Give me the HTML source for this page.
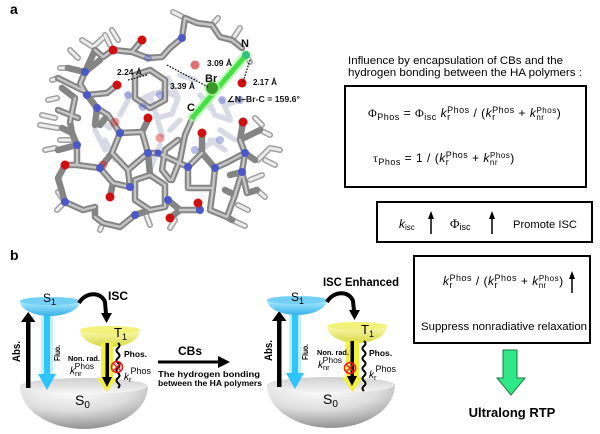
<!DOCTYPE html>
<html><head><meta charset="utf-8"><style>
html,body{margin:0;padding:0;background:#fff;}
svg{display:block;}
</style></head><body>
<svg width="600" height="434" viewBox="0 0 600 434" xmlns="http://www.w3.org/2000/svg" font-family="'Liberation Sans', Arial, sans-serif">
<defs>
<linearGradient id="cy" x1="0" y1="0" x2="0" y2="1"><stop offset="0" stop-color="#b0eeff"/><stop offset="1" stop-color="#38b0e8"/></linearGradient>
<linearGradient id="yl" x1="0" y1="0" x2="0" y2="1"><stop offset="0" stop-color="#fcfcb8"/><stop offset="1" stop-color="#d6d640"/></linearGradient>
<radialGradient id="gr" cx="0.4" cy="0.1" r="0.95"><stop offset="0" stop-color="#ffffff"/><stop offset="0.5" stop-color="#dedede"/><stop offset="1" stop-color="#8a8a8a"/></radialGradient>
<linearGradient id="grr" x1="0" y1="0" x2="0" y2="1"><stop offset="0" stop-color="#d0d0d0"/><stop offset="1" stop-color="#f6f6f6"/></linearGradient>
</defs>

<!-- panel labels -->
<text x="10" y="14" font-size="14" font-weight="bold">a</text>
<text x="10" y="260" font-size="14" font-weight="bold">b</text>

<!-- ============ MOLECULE ============ -->
<g stroke-linecap="round" stroke-linejoin="round" fill="none">
  <!-- faded background -->
  <g opacity="0.45" stroke="#a8acc8" stroke-width="5.5">
    <path d="M150 95L165 90L178 98L172 114L157 118L150 95 M157 118L162 135 M140 105L150 95 M120 115L128 100 M168 78L178 98 M208 100L215 115L230 120 M222 100L230 118 M95 130L105 150 M150 170L160 145 M200 95L210 108 M105 140L115 160 M128 95L140 100L150 95 M210 140L225 150 M220 130L235 140 M100 120L110 128 M170 130L180 120 M225 105L240 100 M180 75L195 80 M200 150L215 140"/>
  </g>
  <!-- H sticks -->
  <g stroke="#a0a0a0" stroke-width="6">
    <path d="M82 40L93 47L103 38 M60 68L68 68 M42 115L55 118 M40 125L58 128 M58 192L65 202L57 210 M173 12L185 18 M218 18L212 25 M240 28L232 40 M250 62L246 55 M260 130L270 135 M255 118L262 125 M232 220L245 226 M150 225L145 212 M100 230L103 223 M268 150L258 160 M262 175L250 180 M265 197L257 190 M45 150L55 148 M48 100L57 98 M105 35L110 45 M280 150L270 148 M52 80L58 78 M70 50L78 58 M275 165L265 160 M170 228L175 220 M238 205L248 210 M112 30L118 40 M60 140L70 140"/>
  </g>
  <g stroke="#ececec" stroke-width="3">
    <path d="M82 40L93 47L103 38 M60 68L68 68 M42 115L55 118 M40 125L58 128 M58 192L65 202L57 210 M173 12L185 18 M218 18L212 25 M240 28L232 40 M250 62L246 55 M260 130L270 135 M255 118L262 125 M232 220L245 226 M150 225L145 212 M100 230L103 223 M268 150L258 160 M262 175L250 180 M265 197L257 190 M45 150L55 148 M48 100L57 98 M105 35L110 45 M280 150L270 148 M52 80L58 78 M70 50L78 58 M275 165L265 160 M170 228L175 220 M238 205L248 210 M112 30L118 40 M60 140L70 140"/>
  </g>
  <!-- main bonds -->
  <g stroke="#858585" stroke-width="6.5">
    <path id="mb" d="M95 50L103 57L113 50 M113 50L132 52L142 40 M132 52L148 58L162 57 M162 57L170 48L182 38L185 18L197 23L212 25L220 37L232 40L242 48 M85 72L68 68 M85 72L95 50 M85 72L80 84L87 95 M58 78L82 90 M87 95L107 93L117 85 M97 108L108 115L120 133 M87 95L97 108 M75 98L70 122 M58 110L78 118 M120 133L142 132L148 120 M142 132L148 153L128 170L112 153L120 133 M112 153L100 168 M128 170L130 187L113 183L110 197 M113 183L100 168L77 165L65 165 M77 145L77 165 M77 145L72 133L70 122 M72 133L62 128 M65 202L83 210L95 207 M95 217L103 223L120 227L135 215 M135 180L150 175L165 185L165 207L150 210L135 200L135 180 M148 153L158 153L188 167 M188 167L202 153L202 133 M202 153L215 168 M188 167L188 188L213 188L215 168 M168 200L180 210L170 218 M180 210L200 210L198 203 M213 188L210 210L227 217L232 220 M215 168L228 162L245 153L240 140L243 122 M245 153L242 172L247 193L257 190 M240 140L260 130 M242 172L235 195L227 217 M193 117L185 135L180 160L172 180 M178 140L165 150L162 170L170 180 M135 75L150 70L165 80L165 100L150 108L135 98L135 75 M62 88L75 98 M95 207L95 217 M135 215L150 210 M168 200L165 207 M58 150L77 145 M95 125L97 108 M65 165L58 178L65 202 M225 190L235 195 M255 160L245 153 M230 175L242 172 M108 115L100 125 M150 175L148 153 M100 60L85 72"/>
  </g>
  <g stroke="#c6c6c6" stroke-width="2.4">
    <path d="M95 50L103 57L113 50 M113 50L132 52L142 40 M132 52L148 58L162 57 M162 57L170 48L182 38L185 18L197 23L212 25L220 37L232 40L242 48 M85 72L80 84L87 95 M58 78L82 90 M87 95L107 93L117 85 M97 108L108 115L120 133 M75 98L70 122 M58 110L78 118 M120 133L142 132 M142 132L148 153L128 170L112 153L120 133 M128 170L130 187L113 183 M113 183L100 168L77 165L65 165 M77 145L77 165 M65 202L83 210L95 207 M95 217L103 223L120 227L135 215 M135 180L150 175L165 185L165 207L150 210L135 200L135 180 M148 153L158 153L188 167 M188 167L202 153 M188 167L188 188L213 188L215 168 M180 210L200 210 M213 188L210 210L227 217 M215 168L228 162L245 153L240 140 M245 153L242 172L247 193 M242 172L235 195L227 217 M193 117L185 135L180 160L172 180 M178 140L165 150L162 170L170 180 M135 75L150 70L165 80L165 100L150 108L135 98L135 75"/>
  </g>
</g>
<!-- faded atoms -->
<g opacity="0.4">
  <circle cx="160" cy="138" r="4.5" fill="#d01010"/>
  <circle cx="115" cy="122" r="4.5" fill="#d01010"/>
  <circle cx="103" cy="165" r="4.5" fill="#d01010"/>
  <circle cx="160" cy="95" r="4" fill="#4a58c8"/>
  <circle cx="143" cy="107" r="4" fill="#4a58c8"/>
  <circle cx="222" cy="100" r="4" fill="#4a58c8"/>
  <circle cx="240" cy="100" r="4" fill="#4a58c8"/>
  <circle cx="195" cy="150" r="4" fill="#4a58c8"/>
  <circle cx="128" cy="95" r="4" fill="#4a58c8"/>
  <circle cx="148" cy="58" r="4" fill="#4a58c8"/>
  <circle cx="220" cy="140" r="4" fill="#4a58c8"/>
</g>
<!-- N atoms -->
<g fill="#4a58c8">
  <circle cx="85" cy="72" r="4"/><circle cx="87" cy="95" r="4"/><circle cx="97" cy="108" r="4"/>
  <circle cx="120" cy="133" r="4"/><circle cx="148" cy="153" r="4"/><circle cx="130" cy="187" r="4"/>
  <circle cx="100" cy="168" r="4"/><circle cx="77" cy="145" r="4"/><circle cx="65" cy="202" r="4"/>
  <circle cx="182" cy="38" r="4"/><circle cx="188" cy="167" r="4"/><circle cx="215" cy="168" r="4"/>
  <circle cx="245" cy="153" r="4"/><circle cx="168" cy="200" r="4"/><circle cx="200" cy="210" r="4"/>
  <circle cx="135" cy="215" r="4"/><circle cx="242" cy="172" r="4"/><circle cx="158" cy="153" r="3.5"/>
</g>
<!-- O atoms -->
<g fill="#d01010">
  <circle cx="113" cy="50" r="4.5"/><circle cx="142" cy="40" r="4.5"/><circle cx="117" cy="85" r="4.5"/>
  <circle cx="148" cy="118" r="4.5"/><circle cx="110" cy="197" r="4.5"/><circle cx="65" cy="165" r="4.5"/>
  <circle cx="202" cy="133" r="4.5"/><circle cx="243" cy="122" r="4.5"/><circle cx="198" cy="203" r="4.5"/>
  <circle cx="170" cy="218" r="4.5"/><circle cx="242" cy="83" r="4.5"/><circle cx="195" cy="65" r="4.5" opacity="0.6"/>
</g>
<!-- green Br bond -->
<line x1="193" y1="117" x2="246" y2="55" stroke="#a8ffa0" stroke-width="10" stroke-linecap="round" opacity="0.6"/>
<line x1="193" y1="117" x2="246" y2="55" stroke="#44e044" stroke-width="5" stroke-linecap="round"/>
<circle cx="212" cy="88" r="8" fill="#a8ffa0" opacity="0.6"/>
<circle cx="212" cy="88" r="6" fill="#3a9a2a"/>
<circle cx="246" cy="55" r="4" fill="#30c080"/>
<!-- dashed contacts -->
<g stroke="#000" stroke-width="1.2" stroke-dasharray="1.6 1.4" fill="none">
  <line x1="167" y1="65" x2="208" y2="87"/>
  <line x1="250" y1="60" x2="243" y2="82"/>
  <line x1="128" y1="80" x2="147" y2="75"/>
</g>
<g font-weight="bold" font-size="8.5" fill="#111">
  <text x="117" y="75" textLength="25" lengthAdjust="spacingAndGlyphs">2.24 Å</text>
  <text x="170" y="89" textLength="25" lengthAdjust="spacingAndGlyphs">3.39 Å</text>
  <text x="207" y="66" textLength="25" lengthAdjust="spacingAndGlyphs">3.09 Å</text>
  <text x="253" y="85" textLength="24" lengthAdjust="spacingAndGlyphs">2.17 Å</text>
  <text x="227" y="102" font-size="8" textLength="73" lengthAdjust="spacingAndGlyphs">∠N–Br-C = 159.6°</text>
  <text x="205" y="82" font-size="11">Br</text>
  <text x="241" y="47" font-size="11">N</text>
  <text x="187" y="111" font-size="11">C</text>
</g>

<!-- ============ RIGHT TEXT & BOXES ============ -->
<text x="348" y="64" font-size="11" textLength="215" lengthAdjust="spacingAndGlyphs">Influence by encapsulation of CBs and the</text>
<text x="348" y="76" font-size="11" textLength="234" lengthAdjust="spacingAndGlyphs">hydrogen bonding between the HA polymers :</text>

<rect x="345" y="86" width="241" height="101" fill="none" stroke="#000" stroke-width="2"/>
<text x="368" y="117" font-size="12" letter-spacing="0.5"><tspan font-family="'Liberation Serif', serif">Φ</tspan><tspan font-size="9" dy="3">Phos</tspan><tspan dy="-3"> = </tspan><tspan font-family="'Liberation Serif', serif">Φ</tspan><tspan font-size="9" dy="3">isc</tspan><tspan dy="-3" font-style="italic"> k</tspan><tspan font-size="9" dy="3">r</tspan><tspan font-size="9" dx="-3.5" dy="-7">Phos</tspan><tspan dy="4"> / (</tspan><tspan font-style="italic">k</tspan><tspan font-size="9" dy="3">r</tspan><tspan font-size="9" dx="-3.5" dy="-7">Phos</tspan><tspan dy="4"> + </tspan><tspan font-style="italic">k</tspan><tspan font-size="8" dy="3">nr</tspan><tspan font-size="8" dx="-8" dy="-7">Phos</tspan><tspan dy="4">)</tspan></text>
<text x="373" y="162" font-size="12" letter-spacing="0.5"><tspan font-family="'Liberation Serif', serif">τ</tspan><tspan font-size="9" dy="3">Phos</tspan><tspan dy="-3"> = 1 / (</tspan><tspan font-style="italic">k</tspan><tspan font-size="9" dy="3">r</tspan><tspan font-size="9" dx="-3.5" dy="-7">Phos</tspan><tspan dy="4"> + </tspan><tspan font-style="italic">k</tspan><tspan font-size="8" dy="3">nr</tspan><tspan font-size="8" dx="-8" dy="-7">Phos</tspan><tspan dy="4">)</tspan></text>

<rect x="377" y="202" width="215" height="40" fill="none" stroke="#000" stroke-width="2"/>
<text x="399" y="228" font-size="12"><tspan font-style="italic">k</tspan><tspan font-size="8" dy="2">isc</tspan></text>
<text x="450" y="228" font-size="13"><tspan font-family="'Liberation Serif', serif">Φ</tspan><tspan font-size="9" dy="2">isc</tspan></text>
<g stroke="#000" stroke-width="1.5"><line x1="431" y1="234" x2="431" y2="218"/><line x1="492" y1="234" x2="492" y2="218"/></g>
<g fill="#000"><polygon points="428,219 434,219 431,211"/><polygon points="489,219 495,219 492,211"/></g>
<text x="513" y="228" font-size="11" textLength="64" lengthAdjust="spacingAndGlyphs">Promote ISC</text>

<rect x="414" y="256" width="176" height="87" fill="none" stroke="#000" stroke-width="2"/>
<text x="443" y="285" font-size="12" letter-spacing="0.5"><tspan font-style="italic">k</tspan><tspan font-size="9" dy="3">r</tspan><tspan font-size="9" dx="-3.5" dy="-7">Phos</tspan><tspan dy="4"> /  (</tspan><tspan font-style="italic">k</tspan><tspan font-size="9" dy="3">r</tspan><tspan font-size="9" dx="-3.5" dy="-7">Phos</tspan><tspan dy="4"> + </tspan><tspan font-style="italic">k</tspan><tspan font-size="8" dy="3">nr</tspan><tspan font-size="8" dx="-8" dy="-7">Phos</tspan><tspan dy="4">)</tspan></text>
<line x1="572" y1="293" x2="572" y2="278" stroke="#000" stroke-width="1.5"/>
<polygon points="569,279 575,279 572,271" fill="#000"/>
<text x="421" y="330" font-size="11" textLength="166" lengthAdjust="spacingAndGlyphs">Suppress nonradiative relaxation</text>

<!-- green arrow -->
<polygon points="503,350 517,350 517,378 525,378 511,395 497,378 503,378" fill="#2fe888" stroke="#1a7a40" stroke-width="1"/>
<text x="512" y="417" font-size="13" font-weight="bold" text-anchor="middle">Ultralong RTP</text>

<!-- ============ ENERGY DIAGRAM 1 ============ -->
<g id="d1">
  <path d="M20 386 A64 43 0 0 0 148 386 Z" fill="url(#gr)"/>
  <ellipse cx="84" cy="386" rx="64" ry="8" fill="url(#grr)"/>
  <rect x="26" y="320" width="4.5" height="68" fill="#000"/>
  <polygon points="21,322 35.5,322 28.2,312" fill="#000"/>
  <rect x="41" y="312" width="12" height="64" fill="#8fe6ff" opacity="0.6"/>
  <rect x="44" y="312" width="6" height="64" fill="#2ec4ff"/>
  <polygon points="38,374 56,374 47,390" fill="#2ec4ff"/>
  <path d="M20 301 A30 15 0 0 0 80 301 Z" fill="url(#cy)"/>
  <ellipse cx="50" cy="301" rx="30" ry="4" fill="#74d0f4"/>
  <path d="M80 330 A30 17 0 0 0 140 330 Z" fill="url(#yl)"/>
  <ellipse cx="110" cy="330" rx="30" ry="4" fill="#f2f27a"/>
  <path d="M79 303 C85 292 101 291 105 302 L106 314" fill="none" stroke="#000" stroke-width="4"/>
  <rect x="101" y="343" width="12" height="38" fill="#f4f040"/>
  <polygon points="97,378 117,378 107,392" fill="#f4f040"/>
  <rect x="105.5" y="343" width="3.5" height="36" fill="#000"/>
  <polygon points="102,377 112,377 107,387" fill="#000"/>
  <path d="M118 343 q3 2.5 0 5 q-3 2.5 0 5 q3 2.5 0 5 q-3 2.5 0 5 q3 2.5 0 5 q-3 2.5 0 5 q3 2.5 0 5 q-3 2.5 0 5 q3 2.5 0 5" fill="none" stroke="#000" stroke-width="2"/>
</g>
<polygon points="101,313 112,313 106.5,323" fill="#000"/>
<circle cx="117" cy="367" r="5.5" fill="none" stroke="#e82020" stroke-width="1.6"/>
<path d="M113.5 363.5L120.5 370.5M120.5 363.5L113.5 370.5" stroke="#e82020" stroke-width="1.5"/>
<text x="43" y="302" font-size="12">S<tspan font-size="9" dy="3">1</tspan></text>
<text x="108" y="300" font-size="12" font-weight="bold">ISC</text>
<text x="114" y="337" font-size="13">T<tspan font-size="9" dy="3">1</tspan></text>
<text x="75" y="405" font-size="14">S<tspan font-size="10" dy="3">0</tspan></text>
<text transform="translate(20,362) rotate(-90)" font-size="11" font-weight="bold" textLength="21" lengthAdjust="spacingAndGlyphs">Abs.</text>
<text transform="translate(60,361) rotate(-90)" font-size="8" font-weight="bold" textLength="16" lengthAdjust="spacingAndGlyphs">Fluo.</text>
<text x="68" y="361" font-size="7.5" font-weight="bold" textLength="32" lengthAdjust="spacingAndGlyphs">Non. rad.</text>
<text x="70" y="374" font-size="10"><tspan font-style="italic">k</tspan><tspan font-size="7.5" dy="2">nr</tspan><tspan font-size="8.5" dx="-7" dy="-7">Phos</tspan></text>
<text x="124" y="357" font-size="8.5" font-weight="bold">Phos.</text>
<text x="124" y="380" font-size="10"><tspan font-style="italic">k</tspan><tspan font-size="7.5" dy="2">r</tspan><tspan font-size="9" dx="-1" dy="-8">Phos</tspan></text>
<line x1="158" y1="362" x2="220" y2="362" stroke="#000" stroke-width="3"/>
<polygon points="218,356 230,362 218,368" fill="#000"/>
<text x="178" y="355" font-size="12" font-weight="bold">CBs</text>
<text x="158" y="377" font-size="8" font-weight="bold" textLength="102" lengthAdjust="spacingAndGlyphs">The hydrogen bonding</text>
<text x="158" y="386" font-size="8" font-weight="bold" textLength="104" lengthAdjust="spacingAndGlyphs">between the HA polymers</text>

<!-- ============ ENERGY DIAGRAM 2 ============ -->
<g transform="translate(247,-1)">
  <path d="M20 386 A64 43 0 0 0 148 386 Z" fill="url(#gr)"/>
  <ellipse cx="84" cy="386" rx="64" ry="8" fill="url(#grr)"/>
  <rect x="30" y="320" width="4.5" height="68" fill="#000"/>
  <polygon points="25,322 39.5,322 32.2,312" fill="#000"/>
  <rect x="42" y="312" width="12" height="64" fill="#8fe6ff" opacity="0.6"/>
  <rect x="45" y="312" width="6" height="64" fill="#2ec4ff"/>
  <polygon points="39,374 57,374 48,390" fill="#2ec4ff"/>
  <path d="M20 301 A30 15 0 0 0 80 301 Z" fill="url(#cy)"/>
  <ellipse cx="50" cy="301" rx="30" ry="4" fill="#74d0f4"/>
  <g transform="translate(0,-3)">
  <path d="M80 330 A30 17 0 0 0 140 330 Z" fill="url(#yl)"/>
  <ellipse cx="110" cy="330" rx="30" ry="4" fill="#f2f27a"/>
  </g>
  <path d="M80 303 C86 292 102 291 106 302 L107 312" fill="none" stroke="#000" stroke-width="4"/>
  <polygon points="102,311 113,311 107.5,321" fill="#000"/>
  <rect x="99" y="342" width="13" height="40" fill="#f4f040"/>
  <polygon points="95,378 116,378 105.5,393" fill="#f4f040"/>
  <rect x="103.5" y="342" width="3.5" height="37" fill="#000"/>
  <polygon points="100,377 110,377 105,387" fill="#000"/>
  <path d="M117 342 q3 2.5 0 5 q-3 2.5 0 5 q3 2.5 0 5 q-3 2.5 0 5 q3 2.5 0 5 q-3 2.5 0 5 q3 2.5 0 5 q-3 2.5 0 5 q3 2.5 0 5 q-3 2.5 0 5" fill="none" stroke="#000" stroke-width="2"/>
  <circle cx="103" cy="369" r="5.5" fill="none" stroke="#e82020" stroke-width="1.6"/>
  <path d="M99.5 365.5L106.5 372.5M106.5 365.5L99.5 372.5" stroke="#e82020" stroke-width="1.5"/>
</g>
<text x="323" y="286" font-size="12" font-weight="bold" textLength="76" lengthAdjust="spacingAndGlyphs">ISC Enhanced</text>
<text x="291" y="301" font-size="12">S<tspan font-size="9" dy="3">1</tspan></text>
<text x="361" y="334" font-size="13">T<tspan font-size="9" dy="3">1</tspan></text>
<text x="323" y="404" font-size="14">S<tspan font-size="10" dy="3">0</tspan></text>
<text transform="translate(272,361) rotate(-90)" font-size="11" font-weight="bold" textLength="21" lengthAdjust="spacingAndGlyphs">Abs.</text>
<text transform="translate(308,360) rotate(-90)" font-size="8" font-weight="bold" textLength="16" lengthAdjust="spacingAndGlyphs">Fluo.</text>
<text x="317" y="355" font-size="7.5" font-weight="bold" textLength="32" lengthAdjust="spacingAndGlyphs">Non. rad.</text>
<text x="318" y="368" font-size="10"><tspan font-style="italic">k</tspan><tspan font-size="7.5" dy="2">nr</tspan><tspan font-size="8.5" dx="-7" dy="-7">Phos</tspan></text>
<text x="369" y="356" font-size="8.5" font-weight="bold">Phos.</text>
<text x="369" y="378" font-size="10"><tspan font-style="italic">k</tspan><tspan font-size="7.5" dy="2">r</tspan><tspan font-size="9" dx="-1" dy="-8">Phos</tspan></text>
</svg>
</body></html>
